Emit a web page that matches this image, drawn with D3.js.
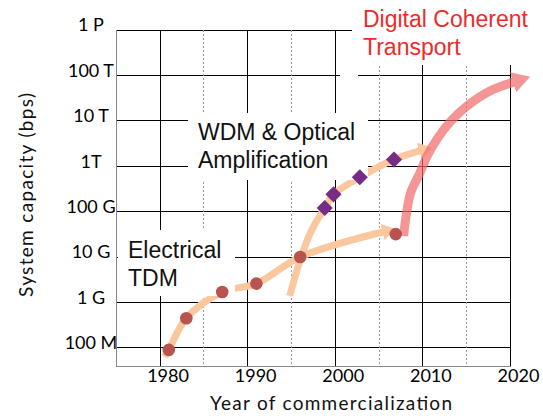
<!DOCTYPE html>
<html>
<head>
<meta charset="utf-8">
<script src="https://cdn.jsdelivr.net/npm/d3@7"></script>
<style>
    body { margin: 0; background: #fff; }
    svg { display: block; }
</style>
</head>
<body>
<svg id="Target" width="543" height="416"></svg>
<script>
// axis ticks
const capacityTicks = [1e8, 1e9, 1e10, 1e11, 1e12, 1e13, 1e14, 1e15];
const capacityLabels = ["100 M", "1 G", "10 G", "100 G", "1T", "10 T", "100 T", "1 P"];
const yearTicks = [1980, 1990, 2000, 2010, 2020];
const yearMinorTicks = [1985, 1995, 2005, 2015];

// electrical TDM systems (circles)
const tdmYears = [1981, 1983, 1987.1, 1991, 1996, 2006.9];
const tdmCapacity = [9e7, 4.5e8, 1.7e9, 2.6e9, 1e10, 3.2e10];

// WDM systems (diamonds)
const wdmYears = [1998.8, 1999.8, 2002.8, 2006.7];
const wdmCapacity = [1.2e11, 2.4e11, 5.7e11, 1.4e12];

// trend arrows
const tdmTrendYears = [1980.5, 1981, 1983, 1987.1, 1991, 1996, 2005.5];
const tdmTrendCapacity = [6.3e7, 9e7, 4.5e8, 1.7e9, 2.6e9, 1e10, 3.6e10];
const wdmTrendYears = [1994.8, 1996.1, 1997.3, 1998.8, 1999.8, 2002.8, 2006.7, 2009.7];
const wdmTrendCapacity = [1.4e9, 1e10, 3.9e10, 1.2e11, 2.4e11, 5.7e11, 1.4e12, 2.2e12];
const coherentTrendYears = [2007.8, 2008.1, 2008.6, 2009.6, 2010.5, 2011.7, 2013.2, 2015, 2017.6, 2020.4];
const coherentTrendCapacity = [2.9e10, 8.4e10, 2.6e11, 6.7e11, 1.7e12, 4.2e12, 9.9e12, 2.1e13, 4.5e13, 7.2e13];

// era labels, with the white boxes that sit behind them
const eraLabels = [
    { lines: ["WDM & Optical", "Amplification"], x: 198, y: 140, color: "#111" },
    { lines: ["Electrical", "TDM"], x: 128, y: 258, color: "#111" },
    { lines: ["Digital Coherent", "Transport"], x: 363, y: 27, color: "#ee2b2b" }
];
const labelBoxes = [
    { x: 188, y: 113, w: 180, h: 67 },
    { x: 118, y: 230, w: 117, h: 66 },
    { x: 352, y: 0, w: 191, h: 65 },
    { x: 340, y: 70, w: 18, h: 8 }
];

const svg = d3.select("#Target");

const x = d3.scaleLinear()
    .domain([1975, 2020])
    .range([116.2, 510.5]);

const y = d3.scaleLog()
    .domain([Math.pow(10, 7.6), 1e15])
    .range([366, 30]);

const zip = (xs, ys) => xs.map((v, i) => [v, ys[i]]);

const line = d3.line()
    .x(d => x(d[0]))
    .y(d => y(d[1]))
    .curve(d3.curveCatmullRom);

const defs = svg.append("defs");

function addArrowHead(id, color, length, width) {
    defs.append("marker")
        .attr("id", id)
        .attr("markerUnits", "userSpaceOnUse")
        .attr("viewBox", `0 0 ${length} ${width}`)
        .attr("markerWidth", length)
        .attr("markerHeight", width)
        .attr("refX", 1)
        .attr("refY", width / 2)
        .attr("orient", "auto")
        .append("path")
        .attr("d", `M0,0L${length},${width / 2}L0,${width}Z`)
        .attr("fill", color);
}

addArrowHead("headOrange", "#fbc79e", 13, 17);
addArrowHead("headPink", "#f16969", 18, 21);

// grid
const grid = svg.append("g").attr("shape-rendering", "crispEdges");

grid.selectAll("line.h")
    .data(capacityTicks)
    .enter()
    .append("line")
    .attr("x1", x(1975))
    .attr("x2", x(2020))
    .attr("y1", d => y(d))
    .attr("y2", d => y(d))
    .attr("stroke", "#000");

grid.selectAll("line.v")
    .data(yearTicks)
    .enter()
    .append("line")
    .attr("x1", d => x(d))
    .attr("x2", d => x(d))
    .attr("y1", y(1e15))
    .attr("y2", y.range()[0])
    .attr("stroke", "#000");

grid.selectAll("line.minor")
    .data(yearMinorTicks)
    .enter()
    .append("line")
    .attr("x1", d => x(d))
    .attr("x2", d => x(d))
    .attr("y1", y(1e15))
    .attr("y2", y.range()[0])
    .attr("stroke", "#999")
    .attr("stroke-dasharray", "2,2");

// left + bottom axis lines
grid.append("line")
    .attr("x1", x(1975)).attr("x2", x(1975))
    .attr("y1", y(1e15)).attr("y2", y.range()[0])
    .attr("stroke", "#888");
grid.append("line")
    .attr("x1", x(1975)).attr("x2", x(2020))
    .attr("y1", y.range()[0]).attr("y2", y.range()[0])
    .attr("stroke", "#888");

// orange trend arrows
[zip(tdmTrendYears, tdmTrendCapacity), zip(wdmTrendYears, wdmTrendCapacity)].forEach(pts => {
    svg.append("path")
        .attr("d", line(pts))
        .attr("fill", "none")
        .attr("stroke", "#fbc79e")
        .attr("stroke-width", 7)
        .attr("marker-end", "url(#headOrange)");
});

// white boxes behind the labels
svg.selectAll("rect.box")
    .data(labelBoxes)
    .enter()
    .append("rect")
    .attr("x", d => d.x)
    .attr("y", d => d.y)
    .attr("width", d => d.w)
    .attr("height", d => d.h)
    .attr("fill", "#fff");

eraLabels.forEach(l => {
    const text = svg.append("text")
        .attr("font-family", "'Liberation Sans', Arial, sans-serif")
        .attr("font-size", 23)
        .attr("fill", l.color);
    l.lines.forEach((s, i) => {
        text.append("tspan")
            .attr("x", l.x)
            .attr("y", l.y + i * 28)
            .text(s);
    });
});

// digital coherent arrow (semi transparent)
svg.append("g")
    .attr("opacity", 0.7)
    .append("path")
    .attr("d", line(zip(coherentTrendYears, coherentTrendCapacity)))
    .attr("fill", "none")
    .attr("stroke", "#f16969")
    .attr("stroke-width", 9)
    .attr("marker-end", "url(#headPink)");

// data points
svg.selectAll("circle.tdm")
    .data(zip(tdmYears, tdmCapacity))
    .enter()
    .append("circle")
    .attr("cx", d => x(d[0]))
    .attr("cy", d => y(d[1]))
    .attr("r", 6.3)
    .attr("fill", "#b85450");

svg.selectAll("path.wdm")
    .data(zip(wdmYears, wdmCapacity))
    .enter()
    .append("path")
    .attr("d", d3.symbol(d3.symbolSquare, 130))
    .attr("transform", d => `translate(${x(d[0])},${y(d[1])}) rotate(45)`)
    .attr("fill", "#772d86");

// tick labels
svg.selectAll("text.ylab")
    .data(capacityTicks)
    .enter()
    .append("text")
    .attr("x", 91)
    .attr("y", d => y(d) - 5)
    .attr("dy", "0.35em")
    .attr("text-anchor", "middle")
    .attr("font-family", "Lato, sans-serif")
    .attr("font-size", 18)
    .attr("fill", "#000")
    .text((d, i) => capacityLabels[i]);

svg.selectAll("text.xlab")
    .data(yearTicks)
    .enter()
    .append("text")
    .attr("x", d => x(d) + 8)
    .attr("y", 382)
    .attr("text-anchor", "middle")
    .attr("font-family", "Lato, sans-serif")
    .attr("font-size", 18)
    .attr("fill", "#000")
    .text(d => d);

// axis titles
svg.append("text")
    .attr("x", 331)
    .attr("y", 410)
    .attr("text-anchor", "middle")
    .attr("font-family", "Lato, sans-serif")
    .attr("font-size", 19)
    .attr("fill", "#111")
    .attr("textLength", 242)
    .text("Year of commercialization");

svg.append("text")
    .attr("transform", "translate(33,195) rotate(-90)")
    .attr("text-anchor", "middle")
    .attr("font-family", "Lato, sans-serif")
    .attr("font-size", 19)
    .attr("fill", "#111")
    .attr("textLength", 204)
    .text("System capacity (bps)");
</script>
</body>
</html>
